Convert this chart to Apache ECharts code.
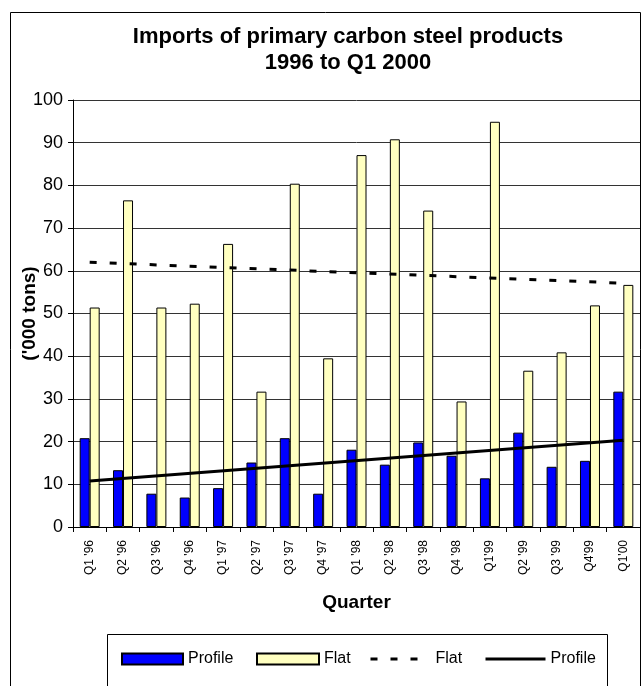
<!DOCTYPE html>
<html>
<head>
<meta charset="utf-8">
<script src="https://cdn.jsdelivr.net/npm/echarts@6/dist/echarts.min.js"></script>
<style>
html,body{margin:0;padding:0;background:#fff;}
#c{width:644px;height:686px;}
</style>
</head>
<body>
<div id="c"></div>
<script>
var categories = ["Q1 '96","Q2 '96","Q3 '96","Q4 '96","Q1 '97","Q2 '97","Q3 '97","Q4 '97","Q1 '98","Q2 '98","Q3 '98","Q4 '98","Q1'99","Q2 '99","Q3 '99","Q4'99","Q1'00"];
var profile = [20.8,13.3,7.8,6.9,9.1,15.1,20.8,7.8,18.1,14.6,19.8,16.7,11.4,22.1,14.1,15.5,31.7];
var flat = [51.4,76.5,51.4,52.3,66.3,31.7,80.4,39.5,87.1,90.8,74.1,29.4,94.9,36.6,40.9,51.9,56.7];
// Trend lines: endpoints (straight lines)
var flatTrend = [62.0,null,null,null,null,null,null,null,null,null,null,null,null,null,null,null,57.1];
var profileTrend = [10.8,null,null,null,null,null,null,null,null,null,null,null,null,null,null,null,20.3];
var yTicks = {min:0, max:100, interval:10};

var FONT = "'Liberation Sans', Arial, sans-serif";
var legendText = {fontFamily:FONT, fontSize:16, color:'#000'};
function mkLegend(name, left, w, icon, isLine){
  var l = {
    top:651, left:left, orient:'horizontal',
    itemWidth:w, itemHeight:11, padding:0,
    textStyle:legendText,
    data:[icon ? {name:name, icon:icon} : name],
    selectedMode:false,
    z:10
  };
  if (isLine) {
    l.itemStyle = {color:'rgba(0,0,0,0)', borderWidth:0};
    l.lineStyle = {width:3};
  }
  return l;
}
var chart = echarts.init(document.getElementById('c'), null, {renderer:'canvas'});
chart.setOption({
  animation:false,
  backgroundColor:'#fff',
  title:{
    text:'Imports of primary carbon steel products\n1996 to Q1 2000',
    left:348, top:24, padding:0, textAlign:'center',
    textStyle:{fontFamily:FONT, fontWeight:'bold', fontSize:22, lineHeight:26, color:'#000'}
  },
  graphic:[
    {type:'rect', shape:{x:10.5,y:12.5,width:630,height:700}, style:{fill:'none',stroke:'#000',lineWidth:1}, silent:true},
    {type:'rect', shape:{x:107.5,y:634.5,width:500,height:100}, style:{fill:'#fff',stroke:'#000',lineWidth:1}, silent:true, z:-1}
  ],
  legend:[
    mkLegend('Profile', 121, 61, 'rect', false),
    mkLegend('Flat', 256, 62, 'rect', false),
    mkLegend('Flat ', 369, 60, null, true),
    mkLegend('Profile ', 484, 60, null, true)
  ],
  grid:{left:73, right:4, top:100, bottom:159, containLabel:false},
  xAxis:{
    type:'category',
    data:categories,
    name:'Quarter',
    nameLocation:'middle',
    nameGap:66,
    nameMoveOverlap:false,
    nameTextStyle:{fontFamily:FONT, fontWeight:'bold', fontSize:19, color:'#000'},
    axisLine:{lineStyle:{color:'#000', width:1}},
    axisTick:{show:true, interval:0, length:5, lineStyle:{color:'#000'}},
    axisLabel:{interval:0, rotate:90, fontFamily:FONT, fontSize:12, color:'#000', margin:13},
    splitLine:{show:false}
  },
  yAxis:{
    type:'value',
    min:yTicks.min, max:yTicks.max, interval:yTicks.interval,
    name:"('000 tons)",
    nameLocation:'middle',
    nameGap:34,
    nameMoveOverlap:false,
    nameTextStyle:{fontFamily:FONT, fontWeight:'bold', fontSize:19, color:'#000'},
    axisLine:{show:true, lineStyle:{color:'#000', width:1}},
    axisTick:{show:true, length:5, lineStyle:{color:'#000'}},
    axisLabel:{fontFamily:FONT, fontSize:18, color:'#000', margin:10},
    splitLine:{show:true, lineStyle:{color:'#333', width:1}}
  },
  series:[
    {name:'Profile', type:'bar', data:profile, barWidth:10, barGap:'0%',
     itemStyle:{color:'#0000FF', borderColor:'#000', borderWidth:1}},
    {name:'Flat', type:'bar', data:flat, barWidth:10, barGap:'0%',
     itemStyle:{color:'#FFFFC0', borderColor:'#000', borderWidth:1}},
    {name:'Flat ', type:'line', data:flatTrend, connectNulls:true, symbol:'none',
     lineStyle:{color:'#000', width:3, type:[7,13]}, itemStyle:{color:'#000'}, z:5},
    {name:'Profile ', type:'line', data:profileTrend, connectNulls:true, symbol:'none',
     lineStyle:{color:'#000', width:3, type:'solid'}, itemStyle:{color:'#000'}, z:5}
  ]
});
</script>
</body>
</html>
